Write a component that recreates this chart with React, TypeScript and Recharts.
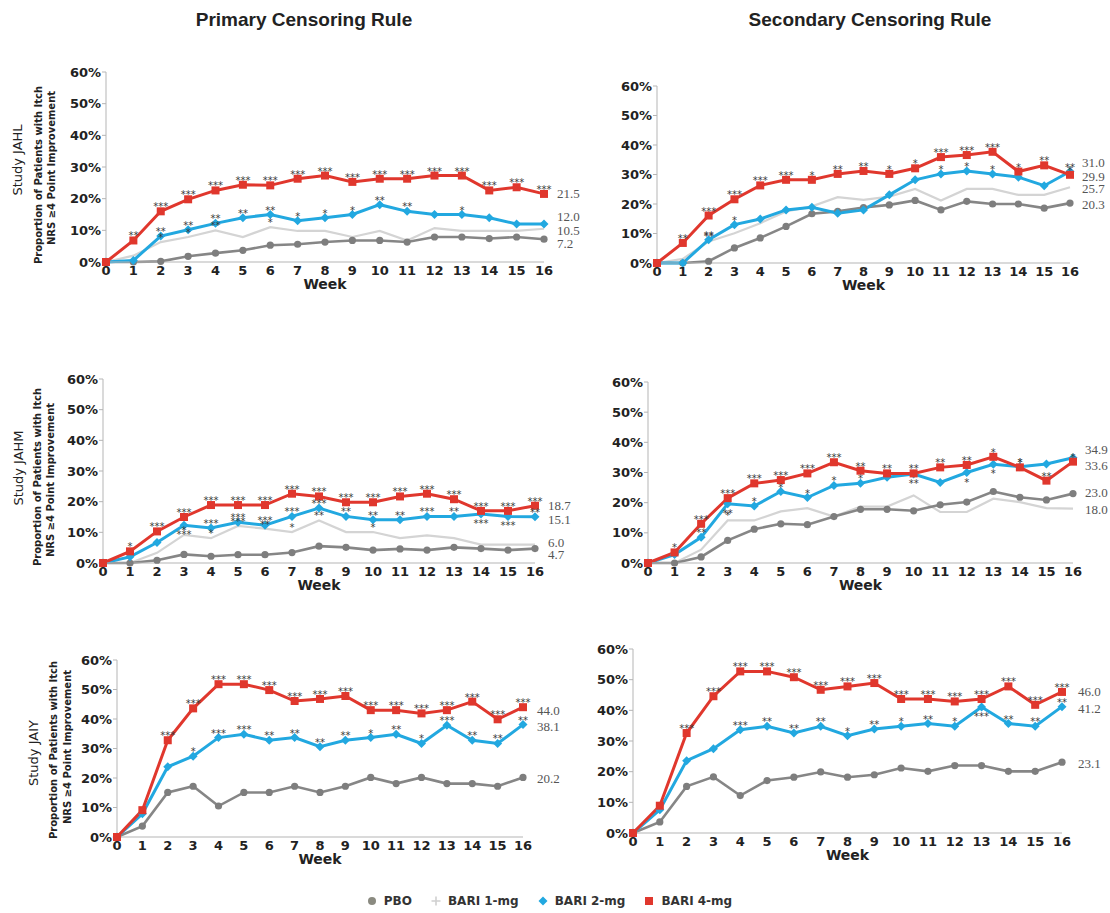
import { Label, LabelList, Line, LineChart, XAxis, YAxis } from "recharts";

const weeks = [0, 1, 2, 3, 4, 5, 6, 7, 8, 9, 10, 11, 12, 13, 14, 15, 16];
const yTicks = [0, 10, 20, 30, 40, 50, 60];

// Study JAHL, primary censoring rule
const jahlPrimaryPbo = [0, 0, 0.2, 1.8, 2.8, 3.7, 5.3, 5.6, 6.3, 6.8, 6.8, 6.3, 7.9, 7.9, 7.4, 7.9, 7.2];
const jahlPrimaryBari1 = [0, 2, 6.3, 7.9, 10, 7.9, 11, 9.8, 9.8, 7.9, 9.8, 6.8, 10.7, 9.8, 9.8, 9.8, 10.5];
const jahlPrimaryBari2 = [0, 0.5, 8.2, 10.2, 12.2, 14, 15, 13, 14, 15, 18.1, 16, 15, 15, 14, 12, 12.0];
const jahlPrimaryBari4 = [0, 6.8, 16, 19.8, 22.6, 24.4, 24.2, 26.3, 27.3, 25.3, 26.3, 26.3, 27.3, 27.3, 22.6, 23.6, 21.5];
const jahlPrimaryStars1 = ["", "", "*", "*", "**", "", "*", "", "", "", "", "", "", "", "", "", ""];
const jahlPrimaryStars2 = ["", "", "**", "**", "**", "**", "**", "*", "*", "*", "**", "**", "", "*", "", "", ""];
const jahlPrimaryStars4 = ["", "**", "***", "***", "***", "***", "***", "***", "***", "***", "***", "***", "***", "***", "***", "***", "***"];

// Study JAHL, secondary censoring rule
const jahlSecondaryPbo = [0, 0, 0.6, 5.1, 8.5, 12.4, 16.7, 17.5, 18.8, 19.7, 21.2, 18, 20.9, 20, 20, 18.6, 20.3];
const jahlSecondaryBari1 = [0, 1.4, 7.3, 10.1, 13.5, 17.5, 19.2, 22.3, 21.4, 22.5, 25.1, 21.2, 25.1, 25.1, 23.1, 23.1, 25.7];
const jahlSecondaryBari2 = [0, 0, 7.9, 13, 14.9, 18, 18.9, 16.9, 18, 23.1, 28.2, 30.2, 31.2, 30.2, 29.1, 26.2, 31.0];
const jahlSecondaryBari4 = [0, 6.8, 16.1, 21.6, 26.3, 28.2, 28.2, 30.2, 31.2, 30.2, 32.1, 35.9, 36.6, 37.7, 31, 33.1, 29.9];
const jahlSecondaryStars1 = ["", "", "**", "", "", "", "", "", "", "", "", "", "", "", "", "", ""];
const jahlSecondaryStars2 = ["", "", "**", "*", "", "", "", "", "", "", "", "*", "*", "*", "", "", "**"];
const jahlSecondaryStars4 = ["", "**", "***", "***", "***", "***", "*", "**", "**", "*", "*", "***", "***", "***", "*", "**", "*"];

// Study JAHM, primary censoring rule
const jahmPrimaryPbo = [0, 0, 0.9, 2.8, 2.2, 2.7, 2.7, 3.4, 5.5, 5.1, 4.2, 4.6, 4.2, 5.1, 4.7, 4.2, 4.7];
const jahmPrimaryBari1 = [0, 0, 3.3, 9.2, 8.1, 12.1, 11.2, 10.1, 13.9, 10.1, 10.1, 8.1, 9, 8.1, 6, 6, 6.0];
const jahmPrimaryBari2 = [0, 2, 6.7, 12.3, 11.4, 13.3, 12.3, 15.2, 17.9, 15.2, 14.1, 14.1, 15.2, 15.2, 16, 15.2, 15.1];
const jahmPrimaryBari4 = [0, 3.8, 10.3, 15, 18.9, 18.9, 18.9, 22.6, 21.7, 19.8, 19.8, 21.7, 22.6, 20.8, 17, 17, 18.7];
const jahmPrimaryStars1 = ["", "", "", "*", "*", "***", "**", "*", "**", "", "*", "", "", "", "", "", ""];
const jahmPrimaryStars2 = ["", "", "", "***", "***", "***", "***", "***", "***", "**", "**", "**", "***", "**", "***", "***", "**"];
const jahmPrimaryStars4 = ["", "*", "***", "***", "***", "***", "***", "***", "***", "***", "***", "***", "***", "***", "***", "***", "***"];

// Study JAHM, secondary censoring rule
const jahmSecondaryPbo = [0, 0, 2, 7.5, 11.2, 13, 12.7, 15.4, 17.8, 17.8, 17.3, 19.3, 20.2, 23.7, 21.8, 20.9, 23.0];
const jahmSecondaryBari1 = [0, 0, 4.4, 14.1, 14.1, 17.1, 18.2, 15.4, 18.7, 18.7, 22.4, 16.9, 16.9, 21.3, 20.2, 18.2, 18.0];
const jahmSecondaryBari2 = [0, 2.8, 8.5, 19.6, 18.9, 23.7, 21.7, 25.7, 26.4, 28.4, 29.5, 26.7, 30, 32.7, 31.9, 32.8, 34.9];
const jahmSecondaryBari4 = [0, 3.5, 13, 21.5, 26.4, 27.5, 29.7, 33.4, 30.6, 29.7, 29.7, 31.7, 32.5, 35.2, 31.7, 27.3, 33.6];
const jahmSecondaryStars1 = ["", "", "", "*", "", "", "", "", "", "", "", "", "", "", "", "", ""];
const jahmSecondaryStars2 = ["", "", "**", "**", "*", "*", "*", "*", "*", "", "**", "", "*", "*", "*", "", ""];
const jahmSecondaryStars4 = ["", "*", "***", "***", "***", "***", "***", "***", "**", "**", "**", "**", "**", "*", "*", "**", "*"];

// Study JAIY, primary censoring rule (no BARI 1-mg arm)
const jaiyPrimaryPbo = [0, 3.7, 15.1, 17.2, 10.5, 15.1, 15.1, 17.2, 15.1, 17.2, 20.2, 18.1, 20.2, 18.1, 18.1, 17.2, 20.2];
const jaiyPrimaryBari2 = [0, 7.9, 23.8, 27.4, 33.7, 34.8, 32.8, 33.7, 30.6, 32.8, 33.7, 34.8, 31.7, 37.9, 32.8, 31.7, 38.1];
const jaiyPrimaryBari4 = [0, 9.1, 32.8, 43.6, 51.8, 51.8, 49.8, 46.1, 46.8, 47.8, 43, 43, 41.9, 43, 45.9, 39.9, 44.0];
const jaiyPrimaryStars2 = ["", "", "", "*", "***", "***", "**", "**", "**", "**", "*", "**", "*", "***", "**", "**", "**"];
const jaiyPrimaryStars4 = ["", "", "***", "***", "***", "***", "***", "***", "***", "***", "***", "***", "***", "***", "***", "***", "***"];

// Study JAIY, secondary censoring rule (no BARI 1-mg arm)
const jaiySecondaryPbo = [0, 3.6, 15.2, 18.3, 12.2, 17.1, 18.2, 19.9, 18.2, 19, 21.2, 20.1, 22, 22, 20.1, 20.1, 23.1];
const jaiySecondaryBari2 = [0, 7.6, 23.6, 27.5, 33.7, 34.8, 32.6, 34.8, 31.7, 33.9, 34.8, 35.7, 34.8, 41.1, 35.7, 34.8, 41.2];
const jaiySecondaryBari4 = [0, 8.9, 32.6, 44.6, 52.7, 52.7, 50.8, 46.7, 47.8, 48.9, 43.7, 43.7, 42.9, 43.7, 47.8, 41.8, 46.0];
const jaiySecondaryStars2 = ["", "", "", "", "***", "**", "**", "**", "*", "**", "*", "**", "*", "***", "**", "**", "**"];
const jaiySecondaryStars4 = ["", "", "***", "***", "***", "***", "***", "***", "***", "***", "***", "***", "***", "***", "***", "***", "***"];

const RED = "#e0372d";
const BLUE = "#22a8e0";
const GRAY = "#868686";
const LIGHT = "#d4d4d4";
const AXIS = "#b5b5b5";
const TEXT = "#222";
const FONT = "'DejaVu Sans', Verdana, sans-serif";

type Box = { x0: number; x1: number; yTop: number; yBot: number };
type EndDy = { pbo: number; bari1: number; bari2: number; bari4: number };

type Panel = {
  key: string;
  pbo: number[];
  bari1: number[] | null;
  bari2: number[];
  bari4: number[];
  stars1: string[] | null;
  stars2: string[];
  stars4: string[];
  box: Box;
  endDx: number;
  endDy: EndDy;
};

const panels: Panel[] = [
  {
    key: "jahl-primary",
    pbo: jahlPrimaryPbo,
    bari1: jahlPrimaryBari1,
    bari2: jahlPrimaryBari2,
    bari4: jahlPrimaryBari4,
    stars1: jahlPrimaryStars1,
    stars2: jahlPrimaryStars2,
    stars4: jahlPrimaryStars4,
    box: { x0: 106, x1: 544, yTop: 72, yBot: 262 },
    endDx: 13,
    endDy: { pbo: 4, bari1: 2, bari2: -8, bari4: 0 },
  },
  {
    key: "jahl-secondary",
    pbo: jahlSecondaryPbo,
    bari1: jahlSecondaryBari1,
    bari2: jahlSecondaryBari2,
    bari4: jahlSecondaryBari4,
    stars1: jahlSecondaryStars1,
    stars2: jahlSecondaryStars2,
    stars4: jahlSecondaryStars4,
    box: { x0: 657, x1: 1070, yTop: 86, yBot: 263 },
    endDx: 12,
    endDy: { pbo: 1, bari1: 1, bari2: -9, bari4: 2 },
  },
  {
    key: "jahm-primary",
    pbo: jahmPrimaryPbo,
    bari1: jahmPrimaryBari1,
    bari2: jahmPrimaryBari2,
    bari4: jahmPrimaryBari4,
    stars1: jahmPrimaryStars1,
    stars2: jahmPrimaryStars2,
    stars4: jahmPrimaryStars4,
    box: { x0: 103, x1: 535, yTop: 379, yBot: 563 },
    endDx: 13,
    endDy: { pbo: 6, bari1: -2, bari2: 3, bari4: 0 },
  },
  {
    key: "jahm-secondary",
    pbo: jahmSecondaryPbo,
    bari1: jahmSecondaryBari1,
    bari2: jahmSecondaryBari2,
    bari4: jahmSecondaryBari4,
    stars1: jahmSecondaryStars1,
    stars2: jahmSecondaryStars2,
    stars4: jahmSecondaryStars4,
    box: { x0: 648, x1: 1073, yTop: 382, yBot: 563 },
    endDx: 12,
    endDy: { pbo: -1.5, bari1: 1, bari2: -8, bari4: 3.5 },
  },
  {
    key: "jaiy-primary",
    pbo: jaiyPrimaryPbo,
    bari1: null,
    bari2: jaiyPrimaryBari2,
    bari4: jaiyPrimaryBari4,
    stars1: null,
    stars2: jaiyPrimaryStars2,
    stars4: jaiyPrimaryStars4,
    box: { x0: 117, x1: 523, yTop: 660, yBot: 837 },
    endDx: 14,
    endDy: { pbo: 1, bari1: 0, bari2: 2, bari4: 3 },
  },
  {
    key: "jaiy-secondary",
    pbo: jaiySecondaryPbo,
    bari1: null,
    bari2: jaiySecondaryBari2,
    bari4: jaiySecondaryBari4,
    stars1: null,
    stars2: jaiySecondaryStars2,
    stars4: jaiySecondaryStars4,
    box: { x0: 633, x1: 1062, yTop: 649, yBot: 833 },
    endDx: 16,
    endDy: { pbo: 1, bari1: 0, bari2: 2, bari4: 0 },
  },
];

const last = weeks.length - 1;

function toRows(p: Panel) {
  return weeks.map((week, i) => {
    // blue stars go under the diamond when the red line sits just above it
    const crowded = p.bari4[i] >= p.bari2[i] && p.bari4[i] - p.bari2[i] < 3.5;
    return {
      week,
      pbo: p.pbo[i],
      bari1: p.bari1 ? p.bari1[i] : null,
      bari2: p.bari2[i],
      bari4: p.bari4[i],
      s1: p.stars1 ? p.stars1[i] : "",
      s2Up: crowded ? "" : p.stars2[i],
      s2Down: crowded ? p.stars2[i] : "",
      s4: p.stars4[i],
      ePbo: i === last ? p.pbo[i] : null,
      e1: i === last && p.bari1 ? p.bari1[i] : null,
      e2: i === last ? p.bari2[i] : null,
      e4: i === last ? p.bari4[i] : null,
    };
  });
}

function SquareDot(props: any) {
  const { cx, cy, index } = props;
  if (cx == null || cy == null) return null;
  return <rect key={`sq-${index}`} x={cx - 4} y={cy - 4} width={8} height={8} fill={RED} />;
}

function DiamondDot(props: any) {
  const { cx, cy, index } = props;
  if (cx == null || cy == null) return null;
  return (
    <path key={`dm-${index}`} d={`M${cx},${cy - 4.5}L${cx + 4.5},${cy}L${cx},${cy + 4.5}L${cx - 4.5},${cy}Z`} fill={BLUE} />
  );
}

function CircleDot(props: any) {
  const { cx, cy, index } = props;
  if (cx == null || cy == null) return null;
  return <circle key={`ci-${index}`} cx={cx} cy={cy} r={3.6} fill="#7e7e7e" />;
}

function pointOf(props: any) {
  const x = props.x ?? props.viewBox?.x;
  const y = props.y ?? props.viewBox?.y;
  return { x, y };
}

function makeStarLabel(dy: number) {
  return (props: any) => {
    const { value } = props;
    if (!value) return null;
    const { x, y } = pointOf(props);
    if (x == null || y == null) return null;
    return (
      <text x={x} y={y + dy} textAnchor="middle" fontSize={10} fontFamily={FONT} fill="#3a3a3a">
        {value}
      </text>
    );
  };
}

const starAbove = makeStarLabel(-1);
const starBelow = makeStarLabel(13);

function makeEndLabel(dx: number, dy: number) {
  return (props: any) => {
    const { value } = props;
    if (value == null || value === "") return null;
    const { x, y } = pointOf(props);
    if (x == null || y == null) return null;
    return (
      <text
        x={x + dx}
        y={y + dy}
        dominantBaseline="central"
        textAnchor="start"
        fontSize={13}
        fontFamily="'Liberation Serif', serif"
        fill="#555"
      >
        {Number(value).toFixed(1)}
      </text>
    );
  };
}

const tickStyle = { fill: TEXT, fontSize: 13, fontWeight: 700, fontFamily: FONT };

function PanelChart({ panel }: { panel: Panel }) {
  const { x0, x1, yTop, yBot } = panel.box;
  const yAxisW = 44;
  const mTop = 14;
  const mRight = 56;
  const xAxisH = 34;
  const mBottom = 2;
  const width = yAxisW + (x1 - x0) + mRight;
  const height = mTop + (yBot - yTop) + xAxisH + mBottom;
  const rows = toRows(panel);
  const { endDx, endDy } = panel;

  return (
    <div style={{ position: "absolute", left: x0 - yAxisW, top: yTop - mTop }}>
      <LineChart width={width} height={height} data={rows} margin={{ top: mTop, right: mRight, bottom: mBottom, left: 0 }}>
        <XAxis
          dataKey="week"
          type="number"
          domain={[0, 16]}
          ticks={weeks}
          interval={0}
          tickLine={false}
          tickSize={2}
          tickMargin={2}
          height={xAxisH}
          stroke={AXIS}
          tick={tickStyle}
        >
          <Label value="Week" position="insideBottom" offset={7} fill={TEXT} fontSize={14} fontWeight={700} fontFamily={FONT} />
        </XAxis>
        <YAxis
          type="number"
          domain={[0, 60]}
          ticks={yTicks}
          width={yAxisW}
          tickSize={4}
          tickMargin={1}
          stroke={AXIS}
          tick={tickStyle}
          tickFormatter={(v: number) => `${v}%`}
        />
        {panel.bari1 && (
          <Line
            dataKey="bari1"
            type="linear"
            stroke={LIGHT}
            strokeWidth={2.2}
            dot={false}
            activeDot={false}
            isAnimationActive={false}
          >
            <LabelList dataKey="s1" content={starAbove} />
            <LabelList dataKey="e1" content={makeEndLabel(endDx, endDy.bari1)} />
          </Line>
        )}
        <Line
          dataKey="pbo"
          type="linear"
          stroke={GRAY}
          strokeWidth={2.6}
          dot={CircleDot}
          activeDot={false}
          isAnimationActive={false}
        >
          <LabelList dataKey="ePbo" content={makeEndLabel(endDx, endDy.pbo)} />
        </Line>
        <Line
          dataKey="bari2"
          type="linear"
          stroke={BLUE}
          strokeWidth={3}
          dot={DiamondDot}
          activeDot={false}
          isAnimationActive={false}
        >
          <LabelList dataKey="s2Up" content={starAbove} />
          <LabelList dataKey="s2Down" content={starBelow} />
          <LabelList dataKey="e2" content={makeEndLabel(endDx, endDy.bari2)} />
        </Line>
        <Line
          dataKey="bari4"
          type="linear"
          stroke={RED}
          strokeWidth={3}
          dot={SquareDot}
          activeDot={false}
          isAnimationActive={false}
        >
          <LabelList dataKey="s4" content={starAbove} />
          <LabelList dataKey="e4" content={makeEndLabel(endDx, endDy.bari4)} />
        </Line>
      </LineChart>
    </div>
  );
}

const columnTitles = [
  { text: "Primary Censoring Rule", x: 304 },
  { text: "Secondary Censoring Rule", x: 870 },
];

const rowLabels = [
  { study: "Study JAHL", sx: 17, sy: 160, px: 38, py: 175, nx: 51, ny: 168 },
  { study: "Study JAHM", sx: 18, sy: 468, px: 37, py: 477, nx: 50, ny: 480 },
  { study: "Study JAIY", sx: 33, sy: 753, px: 53, py: 750, nx: 67, ny: 747 },
];

const legendItems = [
  { name: "PBO", shape: "circle", color: "#8a8a80" },
  { name: "BARI 1-mg", shape: "plus", color: "#d0d0d0" },
  { name: "BARI 2-mg", shape: "diamond", color: BLUE },
  { name: "BARI 4-mg", shape: "square", color: RED },
];

function LegendIcon({ shape, color }: { shape: string; color: string }) {
  return (
    <svg width={12} height={12} style={{ display: "block" }}>
      {shape === "circle" && <circle cx={6} cy={6} r={4} fill={color} />}
      {shape === "plus" && <path d="M6,1.5V10.5M1.5,6H10.5" stroke={color} strokeWidth={1.6} />}
      {shape === "diamond" && <path d="M6,1.5L10.5,6L6,10.5L1.5,6Z" fill={color} />}
      {shape === "square" && <rect x={2} y={2} width={8} height={8} fill={color} />}
    </svg>
  );
}

export default function App() {
  return (
    <div style={{ position: "absolute", left: 0, top: 0, width: 1110, height: 913, background: "#fff", fontFamily: FONT }}>
      <svg width={1110} height={913} style={{ position: "absolute", left: 0, top: 0 }}>
        {columnTitles.map((t) => (
          <text
            key={t.text}
            x={t.x}
            y={26}
            textAnchor="middle"
            fontSize={19}
            fontWeight={700}
            fontFamily="'Liberation Sans', Arial, sans-serif"
            fill={TEXT}
          >
            {t.text}
          </text>
        ))}
        {rowLabels.map((r) => (
          <g key={r.study} fill={TEXT} fontFamily={FONT} fontWeight={700}>
            <text x={r.sx} y={r.sy} transform={`rotate(-90 ${r.sx} ${r.sy})`} textAnchor="middle" dominantBaseline="central" fontSize={13} fontWeight={400}>
              {r.study}
            </text>
            <text x={r.px} y={r.py} transform={`rotate(-90 ${r.px} ${r.py})`} textAnchor="middle" dominantBaseline="central" fontSize={10}>
              Proportion of Patients with Itch
            </text>
            <text x={r.nx} y={r.ny} transform={`rotate(-90 ${r.nx} ${r.ny})`} textAnchor="middle" dominantBaseline="central" fontSize={10}>
              NRS ≥4 Point Improvement
            </text>
          </g>
        ))}
      </svg>
      {panels.map((p) => (
        <PanelChart key={p.key} panel={p} />
      ))}
      <div
        style={{
          position: "absolute",
          left: 0,
          top: 894,
          width: 1098,
          display: "flex",
          justifyContent: "center",
          alignItems: "center",
          gap: 18,
          fontSize: 12,
          fontWeight: 700,
          color: "#333",
        }}
      >
        {legendItems.map((item) => (
          <div key={item.name} style={{ display: "flex", alignItems: "center", gap: 6 }}>
            <LegendIcon shape={item.shape} color={item.color} />
            <span>{item.name}</span>
          </div>
        ))}
      </div>
    </div>
  );
}
